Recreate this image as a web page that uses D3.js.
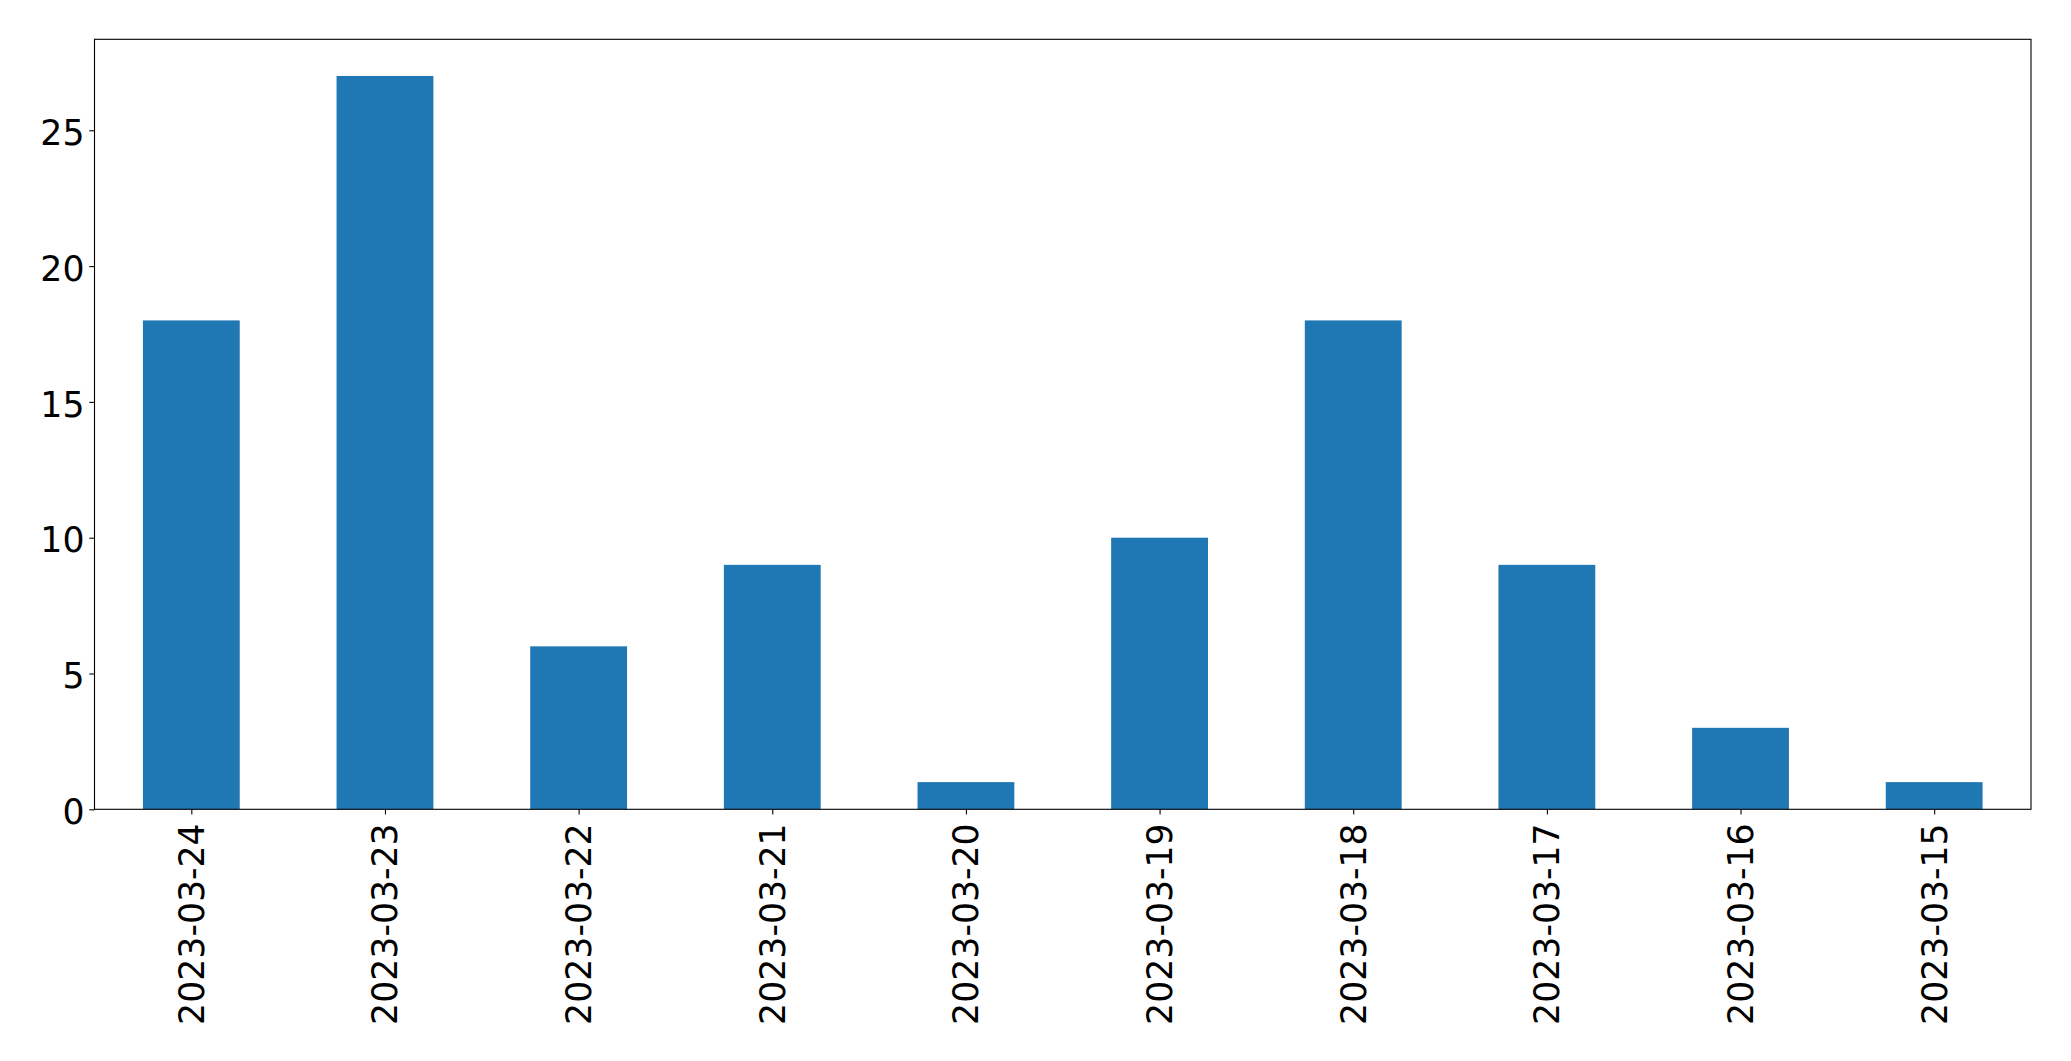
<!DOCTYPE html>
<html><head><meta charset="utf-8">
<script src="https://cdn.jsdelivr.net/npm/d3@7"></script>
<style>html,body{margin:0;padding:0;background:#fff;}svg{display:block;}</style>
</head><body>
<script>
const categories = ["2023-03-24","2023-03-23","2023-03-22","2023-03-21","2023-03-20","2023-03-19","2023-03-18","2023-03-17","2023-03-16","2023-03-15"];
const values = [18, 27, 6, 9, 1, 10, 18, 9, 3, 1];
const yTicks = [0, 5, 10, 15, 20, 25];

const W = 2071, H = 1061;
const mLeft = 94.5, mRight = 2031, mTop = 39.3, mBottom = 809.3;
const fontSize = 34.7;
const font = "DejaVu Sans, sans-serif";

const svg = d3.select("body").append("svg").attr("width", W).attr("height", H);

const x = d3.scaleLinear().domain([-0.5, categories.length - 0.5]).range([mLeft, mRight]);
const y = d3.scaleLinear().domain([0, d3.max(values) * 1.05]).range([mBottom, mTop]);

svg.append("g").selectAll("rect").data(values).join("rect")
  .attr("x", (d, i) => x(i - 0.25))
  .attr("width", (d, i) => x(i + 0.25) - x(i - 0.25))
  .attr("y", d => y(d))
  .attr("height", d => y(0) - y(d))
  .attr("fill", "#1f77b4");

// frame
svg.append("rect").attr("x", mLeft).attr("y", mTop).attr("width", mRight - mLeft).attr("height", mBottom - mTop)
  .attr("fill", "none").attr("stroke", "#000").attr("stroke-width", 1.1);

// y axis
const ya = svg.append("g").attr("transform", `translate(${mLeft},0)`)
  .call(d3.axisLeft(y).tickValues(yTicks).tickSize(5.2).tickPadding(4.8).tickFormat(d3.format("d")));
ya.select(".domain").remove();
ya.selectAll("line").attr("stroke", "#000").attr("stroke-width", 1.1);
ya.selectAll("text").attr("font-family", font).attr("font-size", fontSize).attr("fill", "#000").attr("dy", null)
  .attr("y", 0).attr("transform", "translate(0,14.3)");

// x axis
const xa = svg.append("g").attr("transform", `translate(0,${mBottom})`)
  .call(d3.axisBottom(x).tickValues(d3.range(categories.length)).tickSize(5.2).tickFormat(i => categories[i]));
xa.select(".domain").remove();
xa.selectAll("line").attr("stroke", "#000").attr("stroke-width", 1.1);
xa.selectAll("text").attr("font-family", font).attr("font-size", fontSize).attr("fill", "#000")
  .attr("y", null).attr("dy", null)
  .attr("text-anchor", "end")
  .attr("transform", "translate(12,14) rotate(-90)");
</script>
</body></html>
